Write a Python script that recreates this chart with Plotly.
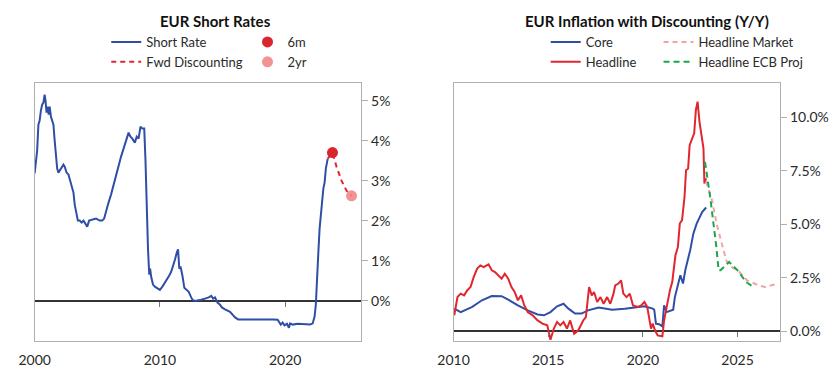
import plotly.graph_objects as go

# ---------------- Left chart: EUR short rates ----------------
sr_x = [2000.00, 2000.10, 2000.20, 2000.30, 2000.40, 2000.50, 2000.60, 2000.70, 2000.80, 2000.87,
        2000.95, 2001.05, 2001.12, 2001.20, 2001.30, 2001.40, 2001.50, 2001.60, 2001.70, 2001.80,
        2001.90, 2002.00, 2002.15, 2002.30, 2002.40, 2002.55, 2002.70, 2002.85, 2003.00, 2003.10,
        2003.20, 2003.30, 2003.45, 2003.60, 2003.75, 2003.90, 2004.00, 2004.20, 2004.35, 2004.60,
        2004.90, 2005.20, 2005.40, 2005.55, 2005.70, 2005.90, 2006.10, 2006.30, 2006.50, 2006.70,
        2006.90, 2007.10, 2007.30, 2007.50, 2007.65, 2007.80, 2008.00, 2008.15, 2008.30, 2008.45,
        2008.60, 2008.75, 2008.85, 2008.95, 2009.05, 2009.15, 2009.22, 2009.30, 2009.45, 2009.60,
        2009.80, 2010.00, 2010.20, 2010.40, 2010.55, 2010.70, 2010.90, 2011.05, 2011.20, 2011.35,
        2011.45, 2011.55, 2011.65, 2011.80, 2011.95, 2012.10, 2012.30, 2012.50, 2012.60, 2012.80,
        2013.00, 2013.30, 2013.60, 2013.90, 2014.10, 2014.25, 2014.40, 2014.60, 2014.80, 2014.95,
        2015.20, 2015.40, 2015.60, 2015.80, 2016.00, 2016.25, 2016.60, 2017.00, 2017.50, 2018.00,
        2018.50, 2019.00, 2019.40, 2019.55, 2019.65, 2019.80, 2019.95, 2020.15, 2020.30, 2020.40,
        2020.60, 2021.00, 2021.50, 2022.00, 2022.20, 2022.35, 2022.45, 2022.55, 2022.65, 2022.75,
        2022.85, 2022.95, 2023.05, 2023.15, 2023.25, 2023.40]
sr_y = [3.18, 3.45, 3.75, 4.40, 4.50, 4.75, 4.90, 4.95, 5.15, 5.00,
        4.70, 4.85, 4.65, 4.85, 4.60, 4.50, 4.40, 4.00, 3.55, 3.30,
        3.20, 3.25, 3.30, 3.40, 3.35, 3.20, 3.15, 3.00, 2.85, 2.70,
        2.40, 2.20, 2.00, 2.00, 1.95, 2.00, 1.95, 1.85, 2.00, 2.02,
        2.05, 2.00, 2.00, 2.05, 2.25, 2.45, 2.65, 2.90, 3.15, 3.40,
        3.60, 3.80, 4.00, 4.20, 4.10, 4.05, 3.95, 4.10, 4.05, 4.35,
        4.30, 4.30, 3.50, 2.00, 1.30, 0.65, 0.80, 0.60, 0.40, 0.35,
        0.30, 0.27, 0.35, 0.45, 0.50, 0.60, 0.72, 0.85, 1.02, 1.20,
        1.28, 0.80, 0.85, 0.62, 0.32, 0.28, 0.22, 0.08, 0.02, -0.01,
        0.00, 0.02, 0.05, 0.08, 0.12, 0.05, 0.08, -0.05, -0.10, -0.17,
        -0.22, -0.25, -0.28, -0.35, -0.42, -0.47, -0.47, -0.47, -0.47, -0.47,
        -0.46, -0.47, -0.48, -0.56, -0.60, -0.55, -0.62, -0.58, -0.68, -0.57,
        -0.60, -0.58, -0.59, -0.60, -0.57, -0.40, -0.10, 0.40, 1.20, 1.80,
        2.10, 2.55, 2.80, 2.95, 3.30, 3.55]

fwd_x = [2023.40, 2023.78, 2024.10, 2024.50, 2024.90, 2025.30]
fwd_y = [3.55, 3.70, 3.35, 3.00, 2.75, 2.62]

m6_x, m6_y = [2023.78], [3.70]
y2_x, y2_y = [2025.30], [2.62]

left_ticks = [2000, 2010, 2020]
left_yticks = [0, 1, 2, 3, 4, 5]
left_yticklabels = ["0%", "1%", "2%", "3%", "4%", "5%"]

# ---------------- Right chart: EUR inflation ----------------
head_x = [2010.04, 2010.21, 2010.38, 2010.56, 2010.73, 2010.90, 2011.07, 2011.25, 2011.42, 2011.59,
          2011.85, 2012.02, 2012.19, 2012.37, 2012.54, 2012.71, 2012.89, 2013.06, 2013.23, 2013.40,
          2013.57, 2013.74, 2013.92, 2014.18, 2014.44, 2014.70, 2014.95, 2015.12, 2015.30, 2015.47,
          2015.64, 2015.81, 2015.99, 2016.16, 2016.37, 2016.59, 2016.85, 2016.99, 2017.16, 2017.30,
          2017.42, 2017.59, 2017.76, 2017.93, 2018.11, 2018.28, 2018.45, 2018.54, 2018.71, 2018.85,
          2018.97, 2019.14, 2019.31, 2019.48, 2019.74, 2019.91, 2020.08, 2020.23, 2020.35, 2020.43,
          2020.52, 2020.64, 2020.78, 2021.03, 2021.12, 2021.29, 2021.43, 2021.55, 2021.64, 2021.72,
          2021.85, 2021.95, 2022.07, 2022.20, 2022.28, 2022.39, 2022.47, 2022.59, 2022.71, 2022.80,
          2022.89, 2022.99, 2023.11, 2023.20, 2023.25, 2023.34]
head_y = [0.75, 1.60, 1.76, 1.68, 1.92, 2.07, 2.54, 2.93, 3.08, 3.00,
          3.13, 2.85, 2.77, 2.62, 2.46, 2.69, 2.46, 2.07, 1.84, 1.45,
          1.68, 1.21, 0.90, 0.75, 0.51, 0.36, 0.28, -0.39, 0.13, 0.44,
          0.28, 0.44, 0.13, 0.51, -0.11, 0.05, 0.51, 0.67, 2.07, 1.68,
          1.84, 1.37, 1.60, 1.29, 1.60, 1.29, 1.76, 2.15, 2.23, 2.38,
          1.76, 1.60, 1.76, 1.21, 1.14, 1.21, 1.37, 1.14, 0.59, 0.13,
          0.36, 0.05, -0.19, -0.23, 0.51, 1.29, 1.92, 2.30, 3.00, 3.55,
          3.94, 5.03, 5.19, 6.28, 7.52, 7.60, 8.69, 8.93, 9.24, 10.33,
          10.72, 9.78, 8.93, 8.54, 6.90, 7.14]

core_x = [2010.04, 2010.38, 2010.99, 2011.50, 2012.02, 2012.54, 2012.89, 2013.40, 2013.92, 2014.44,
          2014.78, 2015.12, 2015.47, 2015.81, 2016.07, 2016.42, 2016.76, 2017.10, 2017.67, 2018.37,
          2019.05, 2019.74, 2020.08, 2020.52, 2020.60, 2020.69, 2020.86, 2021.03, 2021.12, 2021.26,
          2021.43, 2021.60, 2021.69, 2021.81, 2021.98, 2022.12, 2022.24, 2022.41, 2022.50, 2022.67,
          2022.84, 2023.01, 2023.13, 2023.34]
core_y = [1.06, 0.90, 1.14, 1.45, 1.65, 1.64, 1.48, 1.21, 0.98, 0.79,
          0.75, 0.90, 1.17, 1.29, 1.06, 0.83, 0.83, 0.98, 1.11, 1.01,
          1.06, 1.11, 1.17, 1.06, 1.01, 0.36, 0.33, 0.23, 1.21, 0.90,
          0.95, 1.01, 1.60, 2.07, 2.62, 2.23, 2.85, 3.47, 3.79, 4.57,
          5.03, 5.34, 5.57, 5.78]

mkt_x = [2023.34, 2023.65, 2023.90, 2024.20, 2024.40, 2024.55, 2025.10, 2025.50, 2026.10,
         2026.45, 2027.15]
mkt_y = [7.00, 6.12, 5.00, 3.94, 3.32, 3.08, 2.77, 2.38, 2.15,
         2.07, 2.23]

ecb_x = [2023.28, 2023.55, 2023.88, 2024.00, 2024.10, 2024.55, 2025.00, 2025.45, 2025.85]
ecb_y = [7.91, 6.30, 3.94, 2.85, 2.85, 3.24, 2.85, 2.30, 2.07]

right_ticks = [2010, 2015, 2020, 2025]
right_yticks = [0, 2.5, 5, 7.5, 10]
right_yticklabels = ["0.0%", "2.5%", "5.0%", "7.5%", "10.0%"]

# ---------------- Styling ----------------
FONT = "Lato"
TXT = "#2a2a2a"
BLUE = "#2f4ea6"
RED = "#e0262e"
PINK = "#f4a3a3"
GREEN = "#1aa64a"
FRAME = "#b0b0b0"
DASH = "5px,4px"

W, H = 840, 378
L_DOM = [19 / W, 352 / W]
R_DOM = [446 / W, 779 / W]
Y_DOM = [1 - 341 / H, 1 - 83 / H]
L_XR = [2000.0, 2026.08]
L_YR = [-1.01, 5.44]
R_XR = [2010.0, 2027.25]
R_YR = [-0.45, 11.59]


def zero_pos(yr):
    return Y_DOM[0] + (0 - yr[0]) / (yr[1] - yr[0]) * (Y_DOM[1] - Y_DOM[0])


fig = go.Figure()

fig.add_trace(go.Scatter(x=sr_x, y=sr_y, mode="lines", name="Short Rate",
                         line=dict(color=BLUE, width=2), xaxis="x", yaxis="y", legend="legend"))
fig.add_trace(go.Scatter(x=fwd_x, y=fwd_y, mode="lines", name="Fwd Discounting",
                         line=dict(color=RED, width=2, dash=DASH), xaxis="x", yaxis="y", legend="legend"))
fig.add_trace(go.Scatter(x=m6_x, y=m6_y, mode="markers", name="6m",
                         marker=dict(color="#d9262d", size=11), xaxis="x", yaxis="y", legend="legend2"))
fig.add_trace(go.Scatter(x=y2_x, y=y2_y, mode="markers", name="2yr",
                         marker=dict(color="#ef8080", size=11, opacity=0.85), xaxis="x", yaxis="y", legend="legend2"))

fig.add_trace(go.Scatter(x=core_x, y=core_y, mode="lines", name="Core",
                         line=dict(color=BLUE, width=2), xaxis="x2", yaxis="y2", legend="legend3"))
fig.add_trace(go.Scatter(x=head_x, y=head_y, mode="lines", name="Headline",
                         line=dict(color=RED, width=2), xaxis="x2", yaxis="y2", legend="legend3"))
fig.add_trace(go.Scatter(x=mkt_x, y=mkt_y, mode="lines", name="Headline Market",
                         line=dict(color=PINK, width=2, dash=DASH), xaxis="x2", yaxis="y2", legend="legend4"))
fig.add_trace(go.Scatter(x=ecb_x, y=ecb_y, mode="lines", name="Headline ECB Proj",
                         line=dict(color=GREEN, width=2, dash="6px,4px"), xaxis="x2", yaxis="y2", legend="legend4"))

# invisible helpers so the tick-only axes at the zero line are drawn
fig.add_trace(go.Scatter(x=[None], y=[None], xaxis="x3", yaxis="y", showlegend=False, hoverinfo="skip"))
fig.add_trace(go.Scatter(x=[None], y=[None], xaxis="x4", yaxis="y2", showlegend=False, hoverinfo="skip"))

axis_font = dict(family=FONT, size=14, color=TXT)

xbase = dict(showgrid=False, zeroline=False, showline=True, mirror=True, linecolor=FRAME, linewidth=1,
             ticks="outside", ticklen=6, tickcolor="rgba(0,0,0,0)", tickfont=axis_font)
ybase = dict(showgrid=False, showline=True, mirror=True, linecolor=FRAME, linewidth=1,
             side="right", ticks="outside", ticklen=6, tickcolor=FRAME, tickfont=axis_font,
             zeroline=True, zerolinecolor="#333333", zerolinewidth=1.5)

fig.update_layout(
    width=W, height=H,
    margin=dict(l=0, r=0, t=0, b=0),
    paper_bgcolor="white", plot_bgcolor="white",
    font=dict(family=FONT, color=TXT),
    xaxis=dict(xbase, domain=L_DOM, range=L_XR, anchor="y", tickvals=left_ticks,
               ticktext=[str(v) for v in left_ticks]),
    yaxis=dict(ybase, domain=Y_DOM, range=L_YR, anchor="x", tickvals=left_yticks,
               ticktext=left_yticklabels),
    xaxis2=dict(xbase, domain=R_DOM, range=R_XR, anchor="y2", tickvals=right_ticks,
                ticktext=[str(v) for v in right_ticks]),
    yaxis2=dict(ybase, domain=Y_DOM, range=R_YR, anchor="x2", tickvals=right_yticks,
                ticktext=right_yticklabels),
    xaxis3=dict(overlaying="x", anchor="free", position=zero_pos(L_YR), range=L_XR,
                tickvals=[2010, 2020], ticks="outside", ticklen=5, tickcolor="#777777",
                showticklabels=False, showline=False, showgrid=False, zeroline=False),
    xaxis4=dict(overlaying="x2", anchor="free", position=zero_pos(R_YR), range=R_XR,
                tickvals=[2015, 2020, 2025], ticks="outside", ticklen=5, tickcolor="#777777",
                showticklabels=False, showline=False, showgrid=False, zeroline=False),
    showlegend=True,
)

leg = dict(orientation="v", xanchor="left", yanchor="top", bgcolor="rgba(0,0,0,0)",
           font=dict(family=FONT, size=13, color=TXT), tracegroupgap=0, itemwidth=30,
           itemclick=False, itemdoubleclick=False)
top = 1 - 27 / H
fig.update_layout(
    legend=dict(leg, x=92 / W, y=top),
    legend2=dict(leg, x=236 / W, y=top),
    legend3=dict(leg, x=540 / W, y=top),
    legend4=dict(leg, x=655 / W, y=top),
)

fig.add_annotation(text="<b>EUR Short Rates</b>", x=203 / W, y=1 - 21 / H, xref="paper", yref="paper",
                   showarrow=False, font=dict(family=FONT, size=15, color="#111111"),
                   xanchor="center", yanchor="middle")
fig.add_annotation(text="<b>EUR Inflation with Discounting (Y/Y)</b>", x=643 / W, y=1 - 21 / H,
                   xref="paper", yref="paper", showarrow=False,
                   font=dict(family=FONT, size=15, color="#111111"), xanchor="center", yanchor="middle")

fig.write_html("out.html", config={"displayModeBar": False},
               post_script="document.body.style.margin='0';document.body.style.padding='0';")
